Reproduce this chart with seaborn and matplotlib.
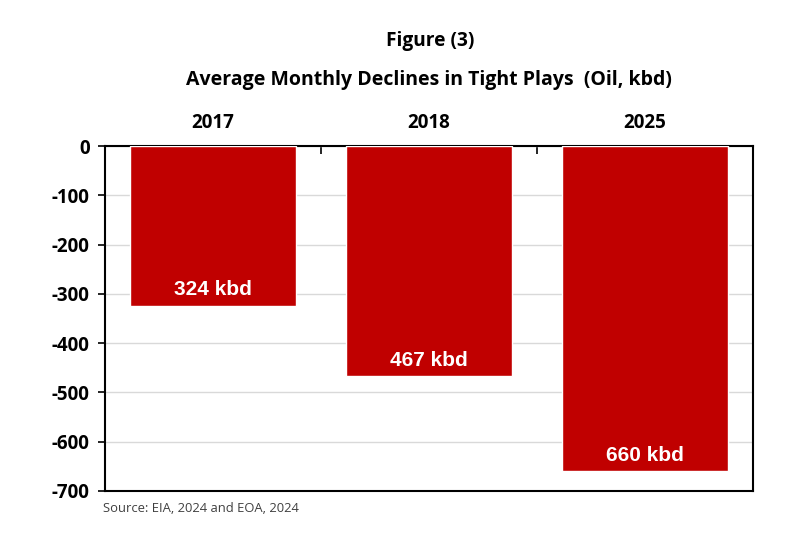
import matplotlib
matplotlib.use("Agg")
import matplotlib.pyplot as plt
import seaborn as sns
import pandas as pd

years = ["2017", "2018", "2025"]
declines = [-324, -467, -660]
bar_labels = ["324 kbd", "467 kbd", "660 kbd"]
y_ticks = [0, -100, -200, -300, -400, -500, -600, -700]

sns.set_style("white")
plt.rcParams['font.family'] = ['Open Sans', 'DejaVu Sans']
plt.rcParams['text.color'] = 'black'
plt.rcParams['xtick.color'] = 'black'
plt.rcParams['ytick.color'] = 'black'

df = pd.DataFrame({"year": years, "decline": declines})

fig = plt.figure(figsize=(8.02, 5.54), dpi=100)
ax = fig.add_axes([105/802, 1-491/554, 648/802, 345/554])

sns.barplot(data=df, x="year", y="decline", order=years, color="#C00000",
            saturation=1, width=0.764, ax=ax, zorder=3)

ax.set_ylim(-700, 0)
ax.set_xlim(-0.5, 2.5)
ax.set_yticks(y_ticks)
ax.set_yticklabels([str(v) for v in y_ticks], fontsize=13.5, fontweight='bold', color='black')
ax.yaxis.grid(True, color="#d9d9d9", linewidth=1, zorder=0)
ax.set_axisbelow(True)

ax.xaxis.tick_top()
ax.set_xticks(range(len(years)))
ax.set_xticklabels(years, fontsize=13.5, fontweight='bold', color='black')
ax.tick_params(axis='x', which='major', length=0, pad=9)
ax.set_xticks([0.5, 1.5], minor=True)
ax.tick_params(axis='x', which='minor', direction='in', length=6, width=1.2, top=True, bottom=False, color='black')
ax.tick_params(axis='y', which='major', direction='out', length=5, width=1.2, left=True, color='black', pad=6)
ax.set_xlabel("")
ax.set_ylabel("")

for s in ax.spines.values():
    s.set_visible(True)
    s.set_color("black")
    s.set_linewidth(1.5)

for patch, lab in zip(ax.patches, bar_labels):
    cx = patch.get_x() + patch.get_width() / 2
    bottom = patch.get_y() if patch.get_height() > 0 else patch.get_y() + patch.get_height()
    ax.annotate(lab, (cx, bottom), xytext=(0, 11.5), textcoords='offset points',
                ha='center', va='center', color='white', fontsize=15,
                fontweight='bold', family='Liberation Sans', zorder=5)

fig.text(430/802, 1-41/554, "Figure (3)", ha='center', va='center', fontsize=13.75, fontweight='bold', color='black')
fig.text(429/802, 1-80/554, "Average Monthly Declines in Tight Plays  (Oil, kbd)", ha='center', va='center',
         fontsize=14, fontweight='bold', color='black')
fig.text(103/802, 1-509/554, "Source: EIA, 2024 and EOA, 2024", ha='left', va='center', fontsize=9.4, color='#404040')

fig.savefig("out.png", dpi=100)
